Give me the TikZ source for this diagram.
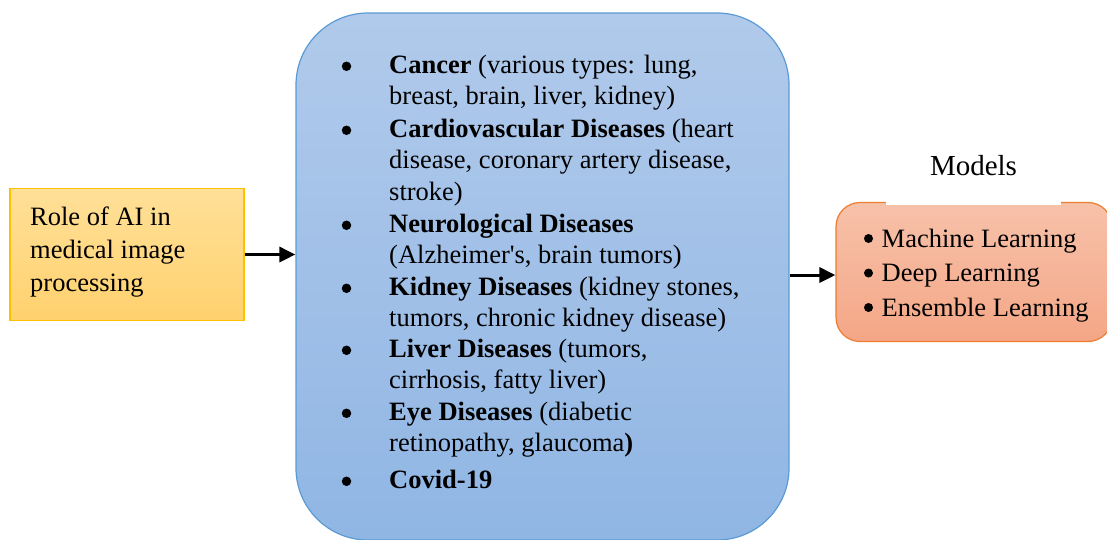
\documentclass[tikz,border=0pt]{standalone}
\usepackage{fontspec}
\setmainfont{Liberation Serif}
\usetikzlibrary{arrows.meta}

\definecolor{roletop}{RGB}{255,224,152}
\definecolor{rolebot}{RGB}{255,209,110}
\definecolor{roleline}{RGB}{255,192,0}
\definecolor{distop}{RGB}{177,202,235}
\definecolor{disbot}{RGB}{144,182,228}
\definecolor{disline}{RGB}{91,155,213}
\definecolor{mdltop}{RGB}{247,194,170}
\definecolor{mdlbot}{RGB}{244,166,134}
\definecolor{mdlline}{RGB}{237,125,49}

\tikzset{
  box/.style = {draw, line width=1.2pt, inner sep=0pt},
  txt/.style = {anchor=base west, inner sep=0pt},
  dot/.style = {circle, fill=black, inner sep=0pt, minimum size=9.5pt},
  link/.style = {line width=3pt, -{Triangle[length=16pt,width=15pt]}}
}

\begin{document}
\begin{tikzpicture}[x=1pt, y=-1pt]
  \clip (0,0) rectangle (1107,539);
  % boxes
  \node[box, draw=roleline, top color=roletop, bottom color=rolebot,
        minimum width=234pt, minimum height=132pt] (role) at (127,254.5) {};
  \node[box, draw=disline, top color=distop, bottom color=disbot,
        rounded corners=72pt, minimum width=493pt, minimum height=527pt] (dis) at (542.5,276.5) {};
  \node[box, draw=mdlline, top color=mdltop, bottom color=mdlbot,
        rounded corners=24pt, minimum width=276pt, minimum height=139pt] (mdl) at (974,272) {};
  \node[anchor=base, fill=white, inner sep=0pt, minimum width=175pt, text depth=30pt,
        font=\fontsize{29}{34}\selectfont] (mdltitle) at (973.5,175) {Models};

  % left text
  \node[txt, font=\fontsize{26.5}{33}\selectfont] (roletxt) at (30,225)
    {\begin{tabular}[t]{@{}l@{}}Role of AI in\\ medical image\\ processing\end{tabular}};

  % disease list
  \foreach \y [count=\k] in {73,137,232,295,357,420,488}
    \node[dot] (b\k) at (346.5,\y-6.7) {};
  \begin{scope}[font=\fontsize{26.5}{31.5}\selectfont]
    \node[txt] (i1) at (389,73)
      {\begin{tabular}[t]{@{}l@{}}\textbf{Cancer} (various types: lung,\\ breast, brain, liver, kidney)\end{tabular}};
    \node[txt] (i2) at (389,137)
      {\begin{tabular}[t]{@{}l@{}}\textbf{Cardiovascular Diseases} (heart\\ disease, coronary artery disease,\\ stroke)\end{tabular}};
    \node[txt] (i3) at (389,232)
      {\begin{tabular}[t]{@{}l@{}}\textbf{Neurological Diseases}\\ (Alzheimer\textquotesingle s, brain tumors)\end{tabular}};
    \node[txt] (i4) at (389,295)
      {\begin{tabular}[t]{@{}l@{}}\textbf{Kidney Diseases} (kidney stones,\\ tumors, chronic kidney disease)\end{tabular}};
    \node[txt] (i5) at (389,357)
      {\begin{tabular}[t]{@{}l@{}}\textbf{Liver Diseases} (tumors,\\ cirrhosis, fatty liver)\end{tabular}};
    \node[txt] (i6) at (389,420)
      {\begin{tabular}[t]{@{}l@{}}\textbf{Eye Diseases} (diabetic\\ retinopathy, glaucoma\textbf{)}\end{tabular}};
    \node[txt] (i7) at (389,488) {\textbf{Covid-19}};
  \end{scope}

  % models list
  \foreach \y [count=\k] in {247,281.5,316}
    \node[dot, minimum size=9pt] (m\k) at (868.5,\y-8.5) {};
  \node[txt, font=\fontsize{26.5}{34.5}\selectfont] (mdltxt) at (881.5,247)
    {\begin{tabular}[t]{@{}l@{}}Machine Learning\\ Deep Learning\\ Ensemble Learning\end{tabular}};

  % arrows
  \draw[link] (role.east) -- (role.east -| dis.west);
  \draw[link] ([yshift=1.5pt]dis.east) -- ([yshift=1.5pt]dis.east -| mdl.west);
\end{tikzpicture}
\end{document}
